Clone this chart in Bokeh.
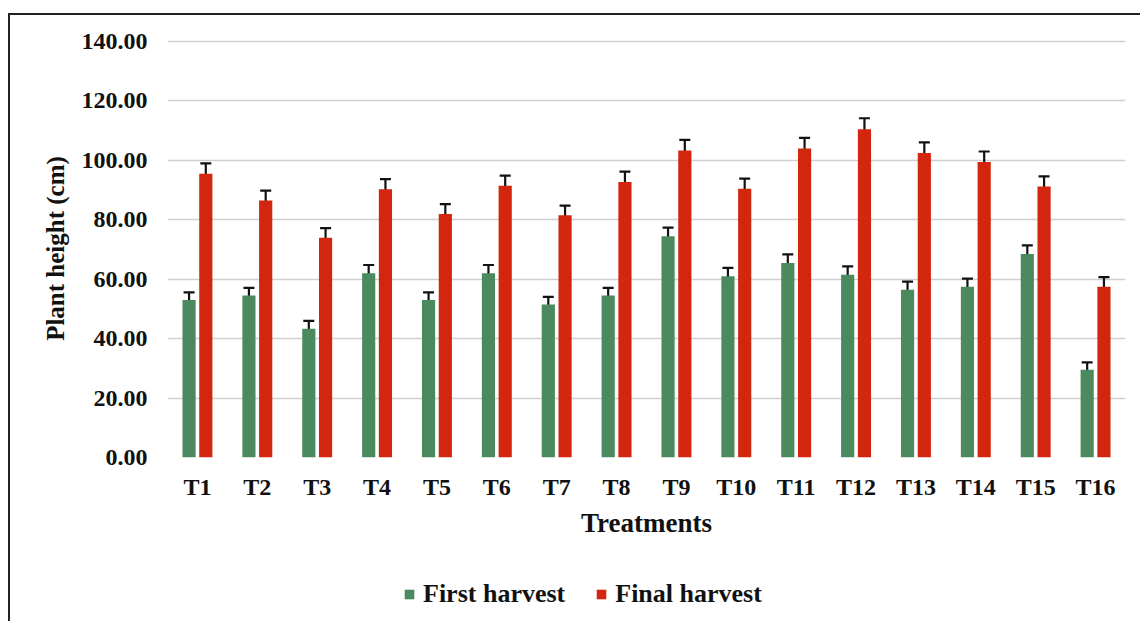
from bokeh.plotting import figure
from bokeh.layouts import column
from bokeh.models import (ColumnDataSource, Whisker, TeeHead, NumeralTickFormatter,
                          Legend, LegendItem, FactorRange, Range1d)
from bokeh.transform import dodge
from bokeh.embed import file_html
from bokeh.resources import INLINE

treatments = ["T1", "T2", "T3", "T4", "T5", "T6", "T7", "T8", "T9", "T10", "T11", "T12", "T13", "T14", "T15", "T16"]
first_harvest = [53.0, 54.5, 43.3, 62.0, 53.0, 62.0, 51.5, 54.5, 74.5, 61.0, 65.5, 61.5, 56.5, 57.5, 68.5, 29.5]
final_harvest = [95.5, 86.5, 74.0, 90.3, 82.0, 91.5, 81.5, 92.7, 103.3, 90.5, 104.0, 110.5, 102.5, 99.5, 91.2, 57.5]
err_first = [2.6, 2.6, 2.7, 2.8, 2.6, 2.8, 2.6, 2.6, 2.9, 2.8, 2.9, 2.8, 2.7, 2.7, 2.9, 2.5]
err_final = [3.5, 3.3, 3.2, 3.4, 3.3, 3.4, 3.3, 3.5, 3.6, 3.4, 3.6, 3.7, 3.6, 3.5, 3.4, 3.2]
series_names = ["First harvest", "Final harvest"]
y_ticks = [0, 20, 40, 60, 80, 100, 120, 140]

GREEN = "#4b8a5f"
RED = "#d3260f"
FONT = "Liberation Serif"

src = ColumnDataSource(dict(
    t=treatments, first=first_harvest, final=final_harvest,
    f_up=[v + e for v, e in zip(first_harvest, err_first)],
    f_lo=[v - e for v, e in zip(first_harvest, err_first)],
    l_up=[v + e for v, e in zip(final_harvest, err_final)],
    l_lo=[v - e for v, e in zip(final_harvest, err_final)],
))

W = 1130
p = figure(x_range=FactorRange(*treatments, range_padding=0), y_range=Range1d(0, 140.7),
           width=W, height=530, output_backend="svg", toolbar_location=None,
           min_border_left=157, min_border_right=15, min_border_top=24, min_border_bottom=88)
p.outline_line_color = None

off = 0.14
p.vbar(x=dodge("t", -off, range=p.x_range), top="first", width=0.22, source=src,
       fill_color=GREEN, line_color=None)
p.vbar(x=dodge("t", off, range=p.x_range), top="final", width=0.22, source=src,
       fill_color=RED, line_color=None)

for base, up, lo in [(dodge("t", -off, range=p.x_range), "f_up", "f_lo"),
                     (dodge("t", off, range=p.x_range), "l_up", "l_lo")]:
    w = Whisker(base=base, upper=up, lower=lo, source=src,
                upper_head=TeeHead(size=11, line_width=2.2, line_color="#111"),
                lower_head=TeeHead(size=11, line_width=2.2, line_color="#111"),
                line_width=2.2, line_color="#111")
    p.add_layout(w)

p.xgrid.grid_line_color = None
p.ygrid.grid_line_color = "#d0d0d0"
p.ygrid.grid_line_width = 1.5
p.yaxis.ticker = y_ticks
p.yaxis.formatter = NumeralTickFormatter(format="0.00")

for ax in (p.xaxis, p.yaxis):
    ax.axis_line_color = None
    ax.major_tick_line_color = None
    ax.minor_tick_line_color = None
    ax.major_tick_out = 0
    ax.major_tick_in = 0
    ax.major_label_text_font = FONT
    ax.major_label_text_font_style = "bold"
    ax.major_label_text_font_size = "24px"
    ax.major_label_text_color = "#111"
    ax.axis_label_text_font = FONT
    ax.axis_label_text_font_style = "bold"
    ax.axis_label_text_color = "#111"

p.xaxis.major_label_standoff = 16
p.xaxis.axis_label = "Treatments"
p.xaxis.axis_label_standoff = 5
p.xaxis.axis_label_text_font_size = "27px"
p.yaxis.major_label_standoff = 20
p.yaxis.axis_label = "Plant height (cm)"
p.yaxis.axis_label_standoff = 10
p.yaxis.axis_label_text_font_size = "25px"

# legend strip below the chart (its frame is aligned with the chart's frame)
lf = figure(width=W, height=76, output_backend="svg", toolbar_location=None,
            x_axis_type=None, y_axis_type=None, x_range=(0, 1), y_range=(0, 1),
            min_border_left=157, min_border_right=15, min_border_top=18, min_border_bottom=0)
lf.outline_line_color = None
lf.grid.visible = False
g1 = lf.vbar(x=[0.5], top=[0], bottom=[0], width=0.1, fill_color=GREEN, line_color=None)
g2 = lf.vbar(x=[0.5], top=[0], bottom=[0], width=0.1, fill_color=RED, line_color=None)
legend = Legend(items=[LegendItem(label=series_names[0], renderers=[g1]),
                       LegendItem(label=series_names[1], renderers=[g2])],
                orientation="horizontal", location=(236, 12),
                label_text_font=FONT, label_text_font_style="bold",
                label_text_font_size="26px", label_text_color="#111",
                glyph_width=12, glyph_height=12, label_standoff=8, spacing=30,
                padding=0, margin=0, border_line_color=None, background_fill_alpha=0)
lf.add_layout(legend, "center")

layout = column(p, lf, spacing=0,
                styles={"border-left": "2px solid #222", "border-top": "2px solid #222",
                        "margin-left": "8px", "margin-top": "13px"})
open("out.html", "w").write(file_html(layout, INLINE))
